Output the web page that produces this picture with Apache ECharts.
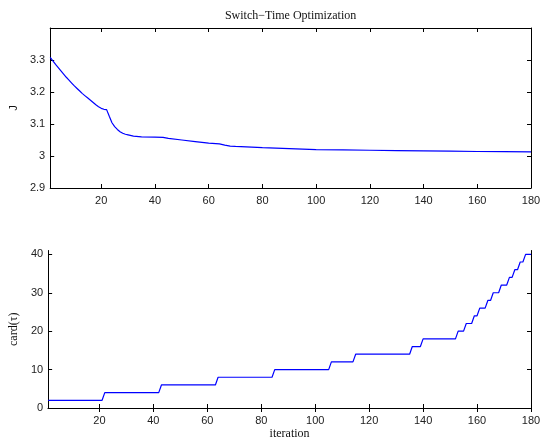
<!DOCTYPE html>
<html>
<head>
<meta charset="utf-8">
<script src="https://cdn.jsdelivr.net/npm/echarts@6/dist/echarts.min.js"></script>
<style>html,body{margin:0;padding:0;background:#fff}#c{width:547px;height:441px}</style>
</head>
<body>
<div id="c"></div>
<script>
// Data
const xTicks = [20, 40, 60, 80, 100, 120, 140, 160, 180];
const jTicks = [2.9, 3.0, 3.1, 3.2, 3.3];
const cardTicks = [0, 10, 20, 30, 40];

const jIter = [1,2,3,4,5,6,7,8,9,10,11,12,13,14,15,16,17,18,19,20,21,22,23,24,25,26,27,28,29,30,32,35,40,43,45,50,55,60,64,66,68,70,80,90,100,110,120,130,140,150,160,170,180];
const jVal  = [3.308,3.297,3.286,3.276,3.266,3.256,3.246,3.237,3.228,3.219,3.211,3.203,3.195,3.188,3.181,3.174,3.167,3.160,3.154,3.149,3.146,3.145,3.124,3.104,3.092,3.083,3.076,3.071,3.068,3.066,3.062,3.060,3.059,3.058,3.055,3.050,3.045,3.040,3.038,3.034,3.031,3.030,3.026,3.023,3.020,3.019,3.018,3.017,3.016,3.015,3.014,3.0135,3.013];

const cardIter = [1,21,22,42,43,63,64,84,85,105,106,114,115,135,136,139,140,152,153,155,156,158,159,160,161,163,164,165,166,168,169,171,172,173,174,175,176,177,178,180];
const cardVal  = [2,2,4,4,6,6,8,8,10,10,12,12,14,14,16,16,18,18,20,20,22,22,24,24,26,26,28,28,30,30,32,32,34,34,36,36,38,38,40,40];

const jData = jIter.map((x, i) => [x, jVal[i]]);
const cardData = cardIter.map((x, i) => [x, cardVal[i]]);

const labelFont = {fontFamily: 'Liberation Sans, Arial, sans-serif', fontSize: 11, color: '#222'};
const axLine = {show: true, lineStyle: {color: '#000', width: 1}};

function xAxisPair(gi, withName) {
  const bottom = {
    type: 'value', gridIndex: gi, min: 1, max: 180, position: 'bottom',
    axisLine: axLine,
    axisTick: {show: true, inside: true, length: 4, customValues: xTicks, lineStyle: {color: '#000'}},
    axisLabel: Object.assign({show: true, margin: 7, customValues: xTicks}, labelFont),
    splitLine: {show: false}
  };
  if (withName) {
    bottom.name = 'iteration';
    bottom.nameLocation = 'middle';
    bottom.nameGap = 20;
    bottom.nameTextStyle = {fontFamily: 'Liberation Serif, Times New Roman, serif', fontSize: 12, color: '#111'};
  }
  const top = {
    type: 'value', gridIndex: gi, min: 1, max: 180, position: 'top',
    axisLine: axLine,
    axisTick: {show: true, inside: true, length: 4, customValues: xTicks, lineStyle: {color: '#000'}},
    axisLabel: {show: false},
    splitLine: {show: false}
  };
  if (gi === 0) {
    top.name = 'Switch\u2212Time Optimization';
    top.nameLocation = 'middle';
    top.nameGap = 6;
    top.nameTextStyle = {fontFamily: 'Liberation Serif, Times New Roman, serif', fontSize: 12, color: '#111'};
  }
  return [bottom, top];
}

function yAxisPair(gi, min, max, ticks, name, nameFont, nameGap) {
  return [{
    type: 'value', gridIndex: gi, min: min, max: max, position: 'left',
    axisLine: axLine,
    axisTick: {show: true, inside: true, length: 4, customValues: ticks, lineStyle: {color: '#000'}},
    axisLabel: Object.assign({show: true, margin: 5, customValues: ticks}, labelFont),
    splitLine: {show: false},
    name: name, nameLocation: 'middle', nameGap: nameGap,
    nameTextStyle: nameFont
  }, {
    type: 'value', gridIndex: gi, min: min, max: max, position: 'right',
    axisLine: axLine,
    axisTick: {show: true, inside: true, length: 4, customValues: ticks, lineStyle: {color: '#000'}},
    axisLabel: {show: false},
    splitLine: {show: false}
  }];
}

const chart = echarts.init(document.getElementById('c'), null, {renderer: 'canvas'});
chart.setOption({
  backgroundColor: '#fff',
  animation: false,
  grid: [
    {left: 47, right: 16, top: 28, height: 160},
    {left: 47, right: 16, top: 250.5, height: 160}
  ],
  xAxis: [...xAxisPair(0, false), ...xAxisPair(1, true)],
  yAxis: [
    ...yAxisPair(0, 2.9, 3.4, jTicks, 'J', {fontFamily: 'Liberation Sans, Arial, sans-serif', fontSize: 11, color: '#111'}, 24),
    ...yAxisPair(1, 0, 41, cardTicks, 'card(\u03c4)', {fontFamily: 'Liberation Serif, Times New Roman, serif', fontSize: 12, color: '#111'}, 23)
  ],
  series: [
    {type: 'line', xAxisIndex: 0, yAxisIndex: 0, data: jData, showSymbol: false, lineStyle: {color: '#0000ff', width: 1.2}},
    {type: 'line', xAxisIndex: 2, yAxisIndex: 2, data: cardData, showSymbol: false, lineStyle: {color: '#0000ff', width: 1.2}}
  ]
});
</script>
</body>
</html>
